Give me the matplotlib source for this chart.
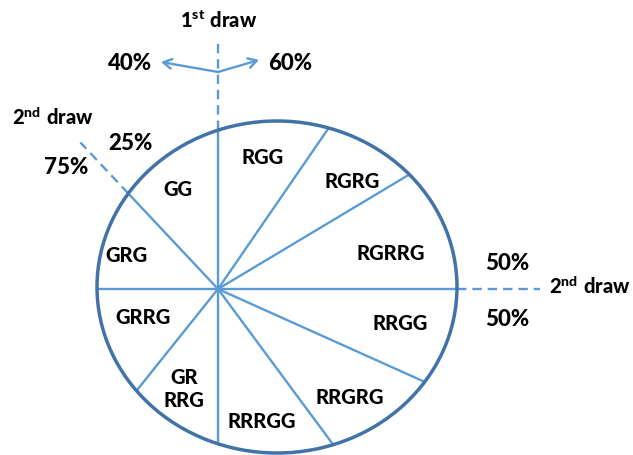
import numpy as np
import matplotlib
matplotlib.use("Agg")
import matplotlib.pyplot as plt
from matplotlib.patches import Ellipse

plt.rcParams['font.family'] = ['Lato', 'DejaVu Sans']
plt.rcParams['mathtext.fontset'] = 'custom'
plt.rcParams['mathtext.rm'] = 'Lato:black'
plt.rcParams['mathtext.bf'] = 'Lato:black'
plt.rcParams['mathtext.it'] = 'Lato:black'

# ---- data ----
first_draw_pct = ["40%", "60%"]
second_draw_left_pct = ["25%", "75%"]
second_draw_right_pct = ["50%", "50%"]
spoke_angles = [90, 55.5, 30.9, 0, -24.2, -53.5, -90, -128.7, 180, 133.2]
outcomes = ["RGG", "RGRG", "RGRRG", "RRGG", "RRGRG", "RRRGG", "GR\nRRG", "GRRG", "GRG", "GG"]
outcome_pos = [(263, 157), (352, 182), (391, 253), (400, 324), (350, 397),
               (262, 422), (184, 389), (143, 317), (126, 255), (178, 189)]

# ---- layout ----
W, H = 633, 455
fig = plt.figure(figsize=(W / 100, H / 100), dpi=100)
ax = fig.add_axes([0, 0, 1, 1])
ax.set_xlim(0, W)
ax.set_ylim(H, 0)
ax.axis('off')

edge_col = '#4273a8'
spoke_col = '#5b9bd5'

ecx, ecy, ea, eb = 277, 287, 180, 166
cx, cy = 218, 289

ax.add_patch(Ellipse((ecx, ecy), 2 * ea, 2 * eb, fill=False, ec=edge_col, lw=2.5, zorder=3))


def hit(angle):
    t = np.deg2rad(angle)
    dx, dy = np.cos(t), -np.sin(t)
    px, py = cx - ecx, cy - ecy
    A = dx ** 2 / ea ** 2 + dy ** 2 / eb ** 2
    B = 2 * (px * dx / ea ** 2 + py * dy / eb ** 2)
    C = px ** 2 / ea ** 2 + py ** 2 / eb ** 2 - 1
    s = (-B + np.sqrt(B ** 2 - 4 * A * C)) / (2 * A)
    return cx + s * dx, cy + s * dy, dx, dy


for ang in spoke_angles:
    ex, ey, dx, dy = hit(ang)
    ax.plot([cx, ex], [cy, ey], color=spoke_col, lw=1.7, zorder=2, solid_capstyle='butt')

# dashed extensions
ex, ey, dx, dy = hit(90)
ax.plot([cx, cx], [ey, 38], color=spoke_col, lw=1.7, ls=(0, (4, 2.5)), zorder=2)
ex, ey, dx, dy = hit(0)
ax.plot([ex, 540], [ey, ey], color=spoke_col, lw=1.7, ls=(0, (4, 2.5)), zorder=2)
ex, ey, dx, dy = hit(133.2)
ax.plot([ex, ex + 70 * dx], [ey, ey + 70 * dy], color=spoke_col, lw=1.7, ls=(0, (4, 2.5)), zorder=2)

# arrows of first draw
for tx, ty in [(161, 62), (259, 60)]:
    ax.annotate("", xy=(tx, ty), xytext=(cx, 72),
                arrowprops=dict(arrowstyle='->,head_length=0.6,head_width=0.35',
                                color=spoke_col, lw=1.7, shrinkA=0, shrinkB=0))

lab = dict(fontsize=14.5, fontweight='black', ha='center', va='center', color='black')
pct = dict(fontsize=16, fontweight='black', ha='center', va='center', color='black')

for name, (x, y) in zip(outcomes, outcome_pos):
    ax.text(x, y, name, linespacing=1.25, **lab)

ax.text(219, 20, r"$1^{st}\ draw$", **lab)
ax.text(53, 117, r"$2^{nd}\ draw$", **lab)
ax.text(590, 286, r"$2^{nd}\ draw$", **lab)

ax.text(130, 63, first_draw_pct[0], **pct)
ax.text(290, 63, first_draw_pct[1], **pct)
ax.text(130, 143, second_draw_left_pct[0], **pct)
ax.text(66, 167, second_draw_left_pct[1], **pct)
ax.text(507, 263, second_draw_right_pct[0], **pct)
ax.text(507, 320, second_draw_right_pct[1], **pct)

fig.savefig("out.png", dpi=100)
